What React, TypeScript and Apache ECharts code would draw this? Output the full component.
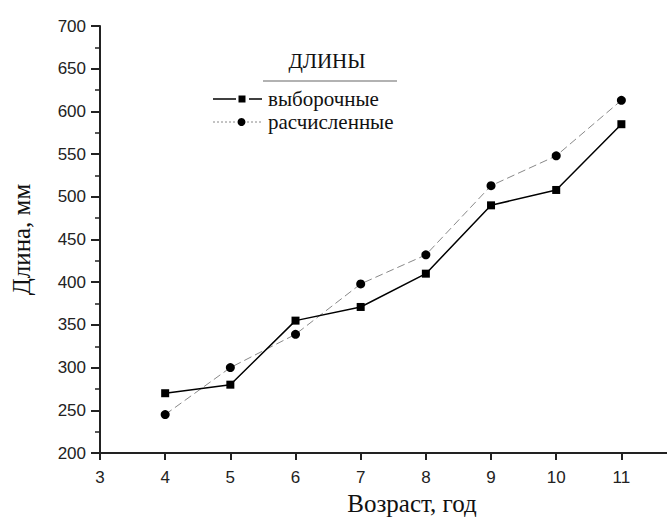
import React, { useEffect, useRef } from "react";
import * as echarts from "echarts";

const ages = [4, 5, 6, 7, 8, 9, 10, 11];
const sampleLengths = [270, 280, 355, 371, 410, 490, 508, 585];
const calcLengths = [245, 300, 339, 398, 432, 513, 548, 613];
const xTicks = [3, 4, 5, 6, 7, 8, 9, 10, 11];
const seriesNames = ["выборочные", "расчисленные"];
const legendTitle = "ДЛИНЫ";
const xName = "Возраст, год";
const yName = "Длина, мм";

export default function App() {
  const ref = useRef<HTMLDivElement>(null);
  useEffect(() => {
    if (!ref.current) return;
    const chart = echarts.init(ref.current, null, { renderer: "svg" });
    const axisColor = "#222";
    const sans = "Liberation Sans";
    const serif = "Liberation Serif";
    const row1 = 99;
    const row2 = 122;
    chart.setOption({
      animation: false,
      backgroundColor: "#fff",
      grid: { left: 100, right: 0, top: 26, bottom: 68, containLabel: false },
      xAxis: {
        type: "value",
        min: 3,
        max: 11.7,
        interval: 1,
        name: xName,
        nameLocation: "middle",
        nameGap: 36,
        nameTextStyle: { fontFamily: serif, fontSize: 25, color: "#111", padding: [0, 0, 0, 57] },
        axisLine: { show: true, onZero: false, lineStyle: { color: axisColor, width: 2 } },
        axisTick: { show: true, length: 7, inside: false, lineStyle: { color: axisColor, width: 2 }, customValues: xTicks },
        axisLabel: { fontFamily: sans, fontSize: 17, color: "#222", margin: 16, customValues: xTicks },
        splitLine: { show: false },
      },
      yAxis: {
        type: "value",
        min: 200,
        max: 700,
        interval: 50,
        name: yName,
        nameLocation: "middle",
        nameGap: 66,
        nameTextStyle: { fontFamily: serif, fontSize: 25, color: "#111" },
        axisLine: { show: true, onZero: false, lineStyle: { color: axisColor, width: 2 } },
        axisTick: { show: true, length: 9, lineStyle: { color: axisColor, width: 2 } },
        minorTick: { show: true, splitNumber: 2, length: 5, lineStyle: { color: axisColor, width: 1.5 } },
        axisLabel: { fontFamily: sans, fontSize: 17, color: "#222", margin: 14 },
        splitLine: { show: false },
      },
      graphic: [
        {
          type: "text",
          x: 327,
          y: 61,
          style: { text: legendTitle, fontFamily: serif, fontSize: 21, fill: "#111", align: "center", verticalAlign: "middle" },
        },
        {
          type: "line",
          shape: { x1: 263, y1: 81, x2: 397, y2: 81 },
          style: { stroke: "#999", lineWidth: 1.5 },
        },
        { type: "line", shape: { x1: 213, y1: row1, x2: 236, y2: row1 }, style: { stroke: "#000", lineWidth: 1.5 } },
        { type: "rect", shape: { x: 238.5, y: row1 - 3.5, width: 7, height: 7 }, style: { fill: "#000" } },
        { type: "line", shape: { x1: 249, y1: row1, x2: 262, y2: row1 }, style: { stroke: "#000", lineWidth: 1.5 } },
        {
          type: "text",
          x: 268,
          y: row1,
          style: { text: seriesNames[0], fontFamily: serif, fontSize: 21, fill: "#111", align: "left", verticalAlign: "middle" },
        },
        { type: "line", shape: { x1: 213, y1: row2, x2: 237, y2: row2 }, style: { stroke: "#888", lineWidth: 1, lineDash: [2, 2] } },
        { type: "circle", shape: { cx: 241.5, cy: row2, r: 4 }, style: { fill: "#000" } },
        { type: "line", shape: { x1: 247, y1: row2, x2: 262, y2: row2 }, style: { stroke: "#888", lineWidth: 1, lineDash: [2, 2] } },
        {
          type: "text",
          x: 268,
          y: row2,
          style: { text: seriesNames[1], fontFamily: serif, fontSize: 21, fill: "#111", align: "left", verticalAlign: "middle" },
        },
      ],
      series: [
        {
          name: seriesNames[0],
          type: "line",
          data: ages.map((a, i) => [a, sampleLengths[i]]),
          symbol: "rect",
          symbolSize: 8,
          itemStyle: { color: "#000" },
          lineStyle: { color: "#000", width: 1.5 },
          z: 3,
        },
        {
          name: seriesNames[1],
          type: "line",
          data: ages.map((a, i) => [a, calcLengths[i]]),
          symbol: "circle",
          symbolSize: 9,
          itemStyle: { color: "#000" },
          lineStyle: { color: "#888", width: 1, type: [8, 4] },
          z: 2,
        },
      ],
    });
    return () => chart.dispose();
  }, []);
  return <div ref={ref} style={{ width: 667, height: 521, position: "absolute", left: 0, top: 0 }} />;
}
